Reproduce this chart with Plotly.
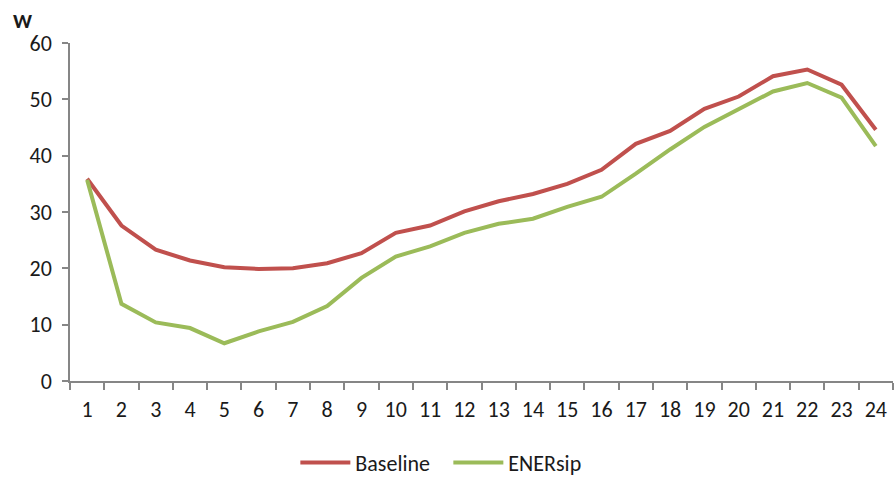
import plotly.graph_objects as go

# Hourly power profile (W)
hours = [str(h) for h in range(1, 25)]
baseline = [35.9, 27.6, 23.3, 21.4, 20.2, 19.9, 20.0, 20.9, 22.7, 26.3, 27.6, 30.1,
            31.9, 33.2, 35.0, 37.5, 42.1, 44.4, 48.3, 50.5, 54.1, 55.3, 52.6, 44.6]
enersip = [35.7, 13.7, 10.4, 9.4, 6.7, 8.8, 10.5, 13.3, 18.3, 22.1, 23.9, 26.3,
           27.9, 28.8, 30.9, 32.7, 36.8, 41.1, 45.1, 48.2, 51.4, 52.9, 50.3, 41.7]

font_family = "Carlito, Calibri, 'Noto Sans', sans-serif"

fig = go.Figure()
fig.add_trace(go.Scatter(x=hours, y=baseline, mode="lines", name="Baseline",
                         line=dict(color="#C0504D", width=4)))
fig.add_trace(go.Scatter(x=hours, y=enersip, mode="lines", name="ENERsip",
                         line=dict(color="#9BBB59", width=4)))

axis_color = "#868686"
fig.update_layout(
    width=895, height=477,
    margin=dict(l=70, r=2, t=43, b=96, autoexpand=False),
    paper_bgcolor="white", plot_bgcolor="white",
    font=dict(family=font_family, size=22, color="#1a1a1a"),
    showlegend=True,
    legend=dict(orientation="h", xref="container", yref="container",
                x=0.33, xanchor="left", y=0.03, yanchor="middle",
                font=dict(size=22), itemwidth=50, entrywidth=88,
                traceorder="normal"),
    xaxis=dict(type="category", range=[-0.5, 23.5], showgrid=False, showline=True,
               linecolor=axis_color, linewidth=1.5, ticks="outside",
               tickson="boundaries", ticklen=7, tickcolor=axis_color, tickwidth=1.5,
               zeroline=False, ticklabelstandoff=8),
    yaxis=dict(range=[0, 60], dtick=10, showgrid=False, showline=True,
               linecolor=axis_color, linewidth=1.5, ticks="outside", ticklen=6,
               tickcolor=axis_color, tickwidth=1.5, zeroline=False,
               ticklabelstandoff=6),
    annotations=[dict(text="<b>W</b>", xref="paper", yref="paper", x=-0.072, y=1.02,
                      xanchor="left", yanchor="bottom", showarrow=False,
                      font=dict(size=21, family=font_family))],
)

fig.write_html("out.html")
